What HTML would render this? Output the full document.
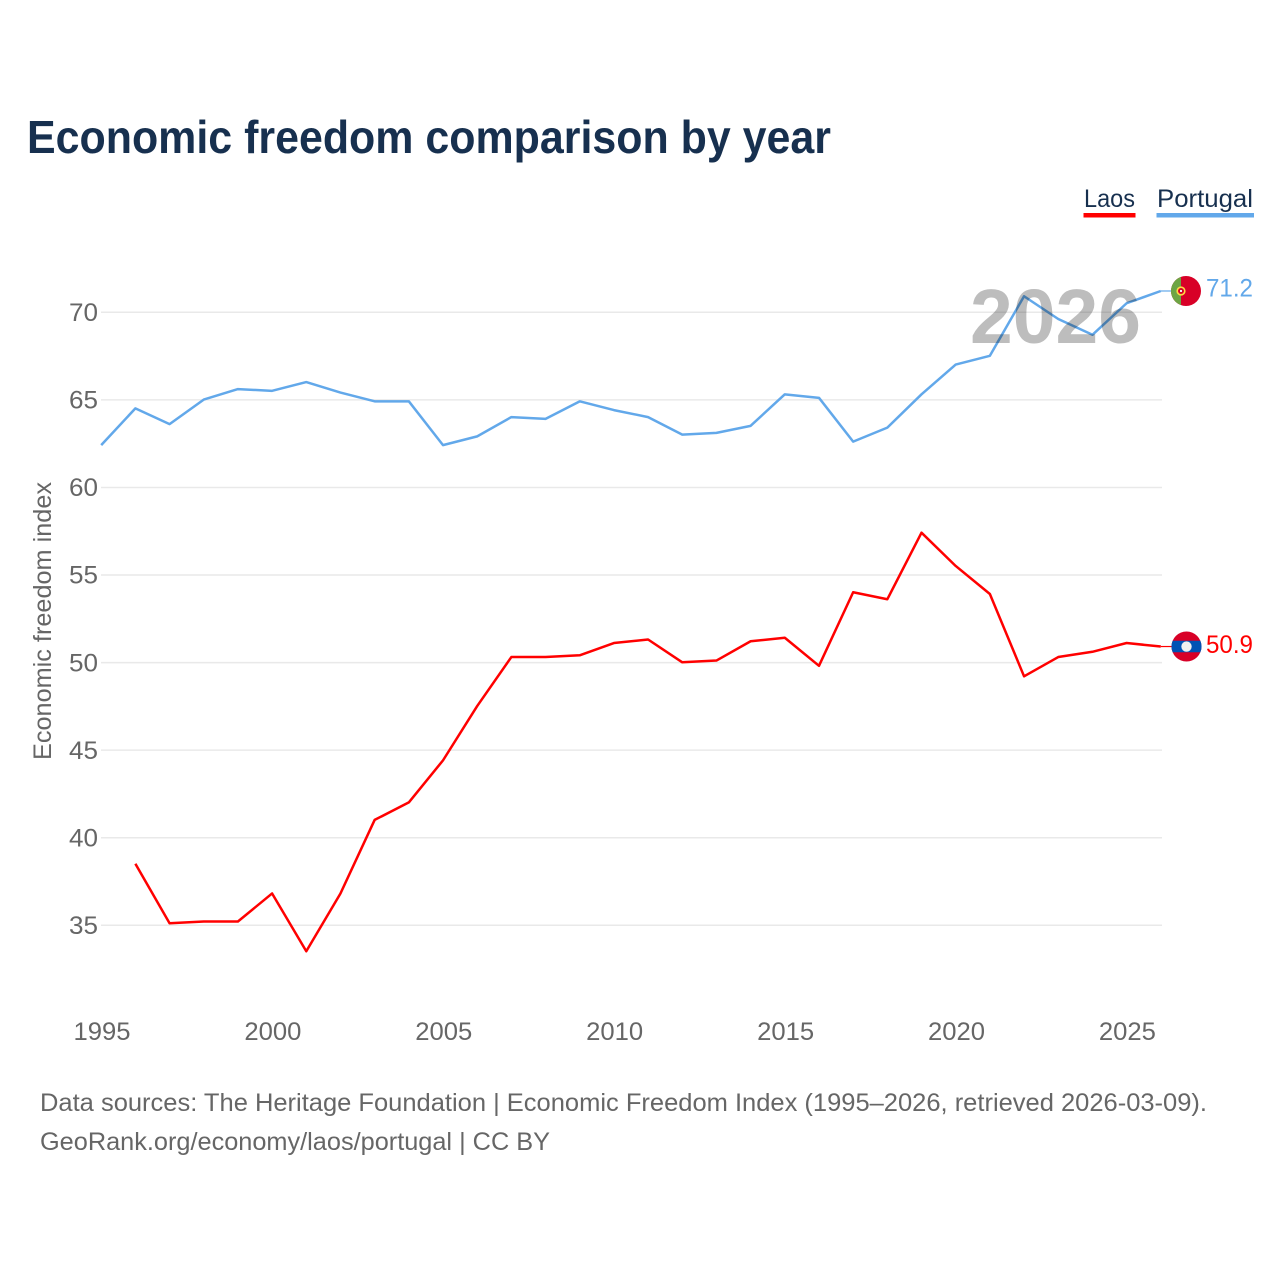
<!DOCTYPE html>
<html lang="en">
<head>
<meta charset="utf-8">
<title>Economic freedom comparison by year</title>
<style>
html,body{margin:0;padding:0;background:#fff;width:1280px;height:1280px;overflow:hidden}
svg{display:block}
text{font-family:"Liberation Sans",sans-serif}
</style>
</head>
<body>
<svg id="chart" xmlns="http://www.w3.org/2000/svg" width="1280" height="1280" viewBox="0 0 1280 1280">
  <rect width="1280" height="1280" fill="#fff"/>
  <text x="27" y="153" font-size="46" font-weight="700" fill="#17304f" textLength="804" lengthAdjust="spacingAndGlyphs">Economic freedom comparison by year</text>

  <g>
    <text x="1084" y="207" font-size="25" fill="#17304f" textLength="51" lengthAdjust="spacingAndGlyphs">Laos</text>
    <rect x="1083.5" y="213" width="52" height="4.5" fill="#ff0000"/>
  </g>
  <g>
    <text x="1157" y="207" font-size="25" fill="#17304f" textLength="96" lengthAdjust="spacingAndGlyphs">Portugal</text>
    <rect x="1156.5" y="213" width="97.5" height="4.5" fill="#62a8ea"/>
  </g>

  <g id="grid"></g>
  <g id="yticks"></g>
  <g id="xticks"></g>
  <text transform="translate(51,621) rotate(-90)" text-anchor="middle" font-size="25" fill="#666" textLength="278" lengthAdjust="spacingAndGlyphs">Economic freedom index</text>

  <g id="series"></g>
  <text x="970" y="343" font-size="77" font-weight="700" fill="#bdbdbd" textLength="171" lengthAdjust="spacingAndGlyphs" style="mix-blend-mode:multiply">2026</text>

  <g id="endpoints"></g>

  <text x="40" y="1111" font-size="25" fill="#666" textLength="1167" lengthAdjust="spacingAndGlyphs">Data sources: The Heritage Foundation | Economic Freedom Index (1995–2026, retrieved 2026-03-09).</text>
  <text x="40" y="1150" font-size="25" fill="#666" textLength="510" lengthAdjust="spacingAndGlyphs">GeoRank.org/economy/laos/portugal | CC BY</text>
</svg>
<script>
const years = [1995,1996,1997,1998,1999,2000,2001,2002,2003,2004,2005,2006,2007,2008,2009,2010,2011,2012,2013,2014,2015,2016,2017,2018,2019,2020,2021,2022,2023,2024,2025,2026];
const portugalValues = [62.4,64.5,63.6,65.0,65.6,65.5,66.0,65.4,64.9,64.9,62.4,62.9,64.0,63.9,64.9,64.4,64.0,63.0,63.1,63.5,65.3,65.1,62.6,63.4,65.3,67.0,67.5,70.9,69.6,68.7,70.5,71.2];
const laosValues = [null,38.5,35.1,35.2,35.2,36.8,33.5,36.8,41.0,42.0,44.4,47.5,50.3,50.3,50.4,51.1,51.3,50.0,50.1,51.2,51.4,49.8,54.0,53.6,57.4,55.5,53.9,49.2,50.3,50.6,51.1,50.9];
const yTickValues = [35,40,45,50,55,60,65,70];
const xTickValues = [1995,2000,2005,2010,2015,2020,2025];

const NS = 'http://www.w3.org/2000/svg';
const xScale = function (year) { return 101.2 + (year - 1995) * 34.18; };
const yScale = function (value) { return 925 - (value - 35) * 17.514; };

function make(tag, parent, attrs) {
  const el = document.createElementNS(NS, tag);
  for (const k in attrs) el.setAttribute(k, attrs[k]);
  parent.appendChild(el);
  return el;
}

const grid = document.getElementById('grid');
const yticks = document.getElementById('yticks');
yTickValues.forEach(function (v) {
  const line = make('line', grid, {x1: 101, x2: 1162, y1: yScale(v) + 0.3, y2: yScale(v) + 0.3, stroke: '#e9e9e9', 'stroke-width': 1.5});
  
  
  const t = make('text', yticks, {x: 98, y: yScale(v) + 9, 'text-anchor': 'end', 'font-size': 25, fill: '#666', textLength: 29, lengthAdjust: 'spacingAndGlyphs'});
  t.textContent = v;
  
  
});

const xticks = document.getElementById('xticks');
xTickValues.forEach(function (y) {
  const t = make('text', xticks, {x: xScale(y) + 0.8, y: 1040, 'text-anchor': 'middle', 'font-size': 25, fill: '#666', textLength: 57, lengthAdjust: 'spacingAndGlyphs'});
  t.textContent = y;
  
  
});

function pathFrom(values) {
  let d = '';
  values.forEach(function (v, i) {
    if (v === null) return;
    d += (d ? 'L' : 'M') + xScale(years[i]).toFixed(2) + ' ' + yScale(v).toFixed(2);
  });
  return d;
}

const series = document.getElementById('series');
const portugalLine = make('path', series, {d: pathFrom(portugalValues), fill: 'none', stroke: '#62a8ea', 'stroke-width': 2.5, 'stroke-linejoin': 'round'});


const laosLine = make('path', series, {d: pathFrom(laosValues), fill: 'none', stroke: '#ff0000', 'stroke-width': 2.5, 'stroke-linejoin': 'round'});



const endpoints = document.getElementById('endpoints');
const lastIdx = years.length - 1;
const fx = 1186;

// Portugal endpoint
const py = yScale(portugalValues[lastIdx]);
const pConn = make('line', endpoints, {x1: xScale(2026), x2: fx - 14, y1: py, y2: py, stroke: '#62a8ea', 'stroke-width': 1.2});


const pFlag = make('g', endpoints, {transform: 'translate(' + fx + ' ' + py + ')'});


make('circle', pFlag, {cx: 0, cy: 0, r: 15, fill: '#d80027'});
make('path', pFlag, {d: 'M-5 -14.14A15 15 0 0 0 -5 14.14Z', fill: '#6da544'});
make('circle', pFlag, {cx: -5, cy: 0, r: 4.6, fill: '#ffda44'});
make('circle', pFlag, {cx: -5, cy: 0, r: 3, fill: '#d80027'});
make('rect', pFlag, {x: -6, y: -1, width: 2, height: 2, fill: '#eee'});
const pVal = make('text', endpoints, {x: 1206, y: py + 5.5, 'font-size': 25, fill: '#62a8ea', textLength: 47, lengthAdjust: 'spacingAndGlyphs'});
pVal.textContent = portugalValues[lastIdx].toFixed(1);



// Laos endpoint
const ly = yScale(laosValues[lastIdx]);
const lConn = make('line', endpoints, {x1: xScale(2026), x2: fx - 14, y1: ly, y2: ly, stroke: '#ff0000', 'stroke-width': 1.2});


const lFlag = make('g', endpoints, {transform: 'translate(' + (fx + 0.5) + ' ' + ly + ')'});


make('circle', lFlag, {cx: 0, cy: 0, r: 15, fill: '#d80027'});
make('path', lFlag, {d: 'M-13.86 -5.74H13.86A15 15 0 0 1 13.86 5.74H-13.86A15 15 0 0 1 -13.86 -5.74Z', fill: '#0052b4'});
make('circle', lFlag, {cx: 0, cy: 0, r: 5.2, fill: '#f0f0f0'});
const lVal = make('text', endpoints, {x: 1206, y: ly + 6.5, 'font-size': 25, fill: '#ff0000', textLength: 47, lengthAdjust: 'spacingAndGlyphs'});
lVal.textContent = laosValues[lastIdx].toFixed(1);


</script>
</body>
</html>
